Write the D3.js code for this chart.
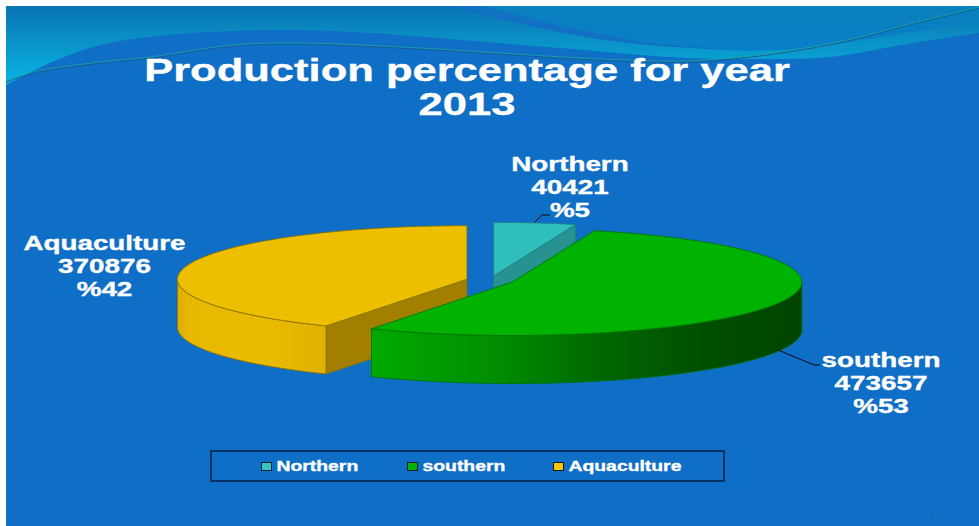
<!DOCTYPE html>
<html>
<head>
<meta charset="utf-8">
<style>
html,body{margin:0;padding:0;background:#fff;overflow:hidden}
svg{display:block}
text{font-family:"Liberation Sans",Arial,sans-serif;font-weight:bold;fill:#fff;stroke:#fff;stroke-width:0.35px}
</style>
<script src="https://cdn.jsdelivr.net/npm/d3@7"></script>
</head>
<body>
<svg id="chart" width="979" height="526"></svg>
<script>
// Production figures for 2013
const categories = ["Northern", "southern", "Aquaculture"];
const production = [40421, 473657, 370876];
const percentLabels = ["%5", "%53", "%42"];
const titleLines = ["Production percentage for year", "2013"];
const pageNumber = "15";

const topColors = ["#30bfbc", "#00b300", "#eebe00"];
const cutColors = ["#279391", "#007a00", "#a37f00"];
const edgeColors = ["#1f7f80", "#007000", "#8a7000"];
const swatchColors = ["#33c4c4", "#00b400", "#ffc400"];

const svg = d3.select("#chart");
const defs = svg.append("defs");

// Slide background
svg.append("rect").attr("x", 6).attr("y", 6).attr("width", 973).attr("height", 520).attr("fill", "#0f6ec6");

// Header swoosh
const curve = d3.line().curve(d3.curveCatmullRom.alpha(0.5));
const verticalGradient = (id, y0, y1, stops) => {
  const g = defs.append("linearGradient").attr("id", id)
    .attr("gradientUnits", "userSpaceOnUse").attr("x1", 0).attr("x2", 0).attr("y1", y0).attr("y2", y1);
  stops.forEach(([o, c]) => g.append("stop").attr("offset", o).attr("stop-color", c));
  return `url(#${id})`;
};

const swooshEdge = [[6,85],[50,63],[100,45],[167,35],[233,31],[300,30],[370,33],[437,38],[560,48],[687,58],[760,59],[830,57],[913,43],[979,33]];
svg.append("path")
  .attr("d", curve(swooshEdge) + "L979,6L6,6Z")
  .attr("fill", verticalGradient("headerGrad", 6, 80, [[0, "#0a74b4"], [0.45, "#0a90c4"], [1, "#08b0e2"]]));
// Upper right fold
svg.append("path")
  .attr("d", curve([[481,6],[560,26],[640,42],[723,50],[780,50],[830,45],[900,34],[979,23]]) + "L979,6Z")
  .attr("fill", verticalGradient("foldGrad", 6, 52, [[0, "#0a80bc"], [1, "#087fcb"]]));
// Dark sliver that tapers into the fold
svg.append("path")
  .attr("d", curve([[450,6],[530,26],[620,42],[723,50]]) + "L640,42L560,26L481,6Z")
  .attr("fill", "#1270c4");
// Thin highlight lines following the curve
const ribbon = [[6,81],[33,72],[100,62],[150,57],[233,45],[300,43],[420,48],[500,53],[600,59],[687,61],[730,58],[780,52],[847,40],[913,23],[979,7]];
svg.append("path")
  .attr("d", curve(ribbon.map(([x, y]) => [x, y + 1.2])))
  .attr("fill", "none").attr("stroke", "#1c5a94").attr("stroke-width", 1);
svg.append("path")
  .attr("d", curve(ribbon))
  .attr("fill", "none").attr("stroke", "#18a8a0").attr("stroke-width", 0.8);

// The slide is shown wider than its natural proportions
const stretched = (sel, factor) => sel.each(function () {
  d3.select(this).attr("textLength", this.getComputedTextLength() * factor)
    .attr("lengthAdjust", "spacingAndGlyphs");
});

svg.append("text").text(titleLines[0]).attr("x", 467).attr("y", 81)
  .attr("text-anchor", "middle").attr("font-size", 32).call(stretched, 1.36);
svg.append("text").text(titleLines[1]).attr("x", 467).attr("y", 115)
  .attr("text-anchor", "middle").attr("font-size", 32).call(stretched, 1.36);

// Exploded 3D pie, projected onto an ellipse
const cx = 490.2, cy = 280.3, rx = 289.5, ry = 53.5, depth = 48, explode = 0.083;
const slices = d3.pie().sort(null).startAngle(0).endAngle(2 * Math.PI)(production);

// Angle 0 is twelve o'clock, increasing clockwise
const centerOf = s => {
  const mid = (s.startAngle + s.endAngle) / 2;
  return [cx + explode * rx * Math.sin(mid), cy - explode * ry * Math.cos(mid)];
};
const rimPoint = (s, a) => {
  const [x, y] = centerOf(s);
  return [x + rx * Math.sin(a), y - ry * Math.cos(a)];
};
const arcPoints = (s, a0, a1) => d3.range(0, 61).map(i => rimPoint(s, a0 + (a1 - a0) * i / 60));
const toPath = pts => "M" + pts.map(p => p[0].toFixed(2) + "," + p[1].toFixed(2)).join("L");

const wallGradient = (id, x0, x1, stops) => {
  const g = defs.append("linearGradient").attr("id", id)
    .attr("gradientUnits", "userSpaceOnUse").attr("x1", x0).attr("x2", x1).attr("y1", 0).attr("y2", 0);
  stops.forEach(([o, c]) => g.append("stop").attr("offset", o).attr("stop-color", c));
  return `url(#${id})`;
};

// Cut face between the slice centre and one rim point, extruded downward
const cutFace = (s, angle, i) => {
  const c = centerOf(s), r = rimPoint(s, angle);
  svg.append("path")
    .attr("d", toPath([c, r, [r[0], r[1] + depth], [c[0], c[1] + depth]]) + "Z")
    .attr("fill", cutColors[i]).attr("stroke", edgeColors[i]).attr("stroke-width", 0.8);
};
const outerWall = (s, a0, a1, fill, i) => {
  const upper = arcPoints(s, a0, a1);
  const lower = upper.map(p => [p[0], p[1] + depth]).reverse();
  svg.append("path").attr("d", toPath(upper.concat(lower)) + "Z")
    .attr("fill", fill).attr("stroke", edgeColors[i]).attr("stroke-width", 0.8);
};
const topFace = (s, i) => {
  const pts = [centerOf(s)].concat(arcPoints(s, s.startAngle, s.endAngle));
  svg.append("path").attr("d", toPath(pts) + "Z")
    .attr("fill", topColors[i]).attr("stroke", edgeColors[i]).attr("stroke-width", 0.8);
};

// Painted back to front
const [north, south, aqua] = slices;
cutFace(north, north.endAngle, 0);
topFace(north, 0);

cutFace(aqua, aqua.startAngle, 2);
outerWall(aqua, aqua.startAngle, 1.5 * Math.PI,
  wallGradient("aquaWall", rimPoint(aqua, 1.5 * Math.PI)[0], rimPoint(aqua, aqua.startAngle)[0],
    [[0, "#dcae00"], [0.08, "#e8b800"], [0.6, "#ebbb00"], [1, "#dfb100"]]), 2);
topFace(aqua, 2);

outerWall(south, Math.PI / 2, south.endAngle,
  wallGradient("southWall", rimPoint(south, south.endAngle)[0], rimPoint(south, Math.PI / 2)[0],
    [[0, "#00aa00"], [0.3, "#008c00"], [0.53, "#006800"], [0.77, "#004f00"], [1, "#004400"]]), 1);
topFace(south, 1);

// Leader lines
const leader = d3.line();
[[[535,222],[542,215],[550,215]], [[778,350],[814,365],[820,365]]].forEach(pts =>
  svg.append("path").attr("d", leader(pts)).attr("fill", "none").attr("stroke", "#0a0a0a").attr("stroke-width", 1));

// Data labels: name, tonnage, share
const labelSpots = [{x: 570, y: 171}, {x: 881, y: 367}, {x: 104.5, y: 250}];
categories.forEach((name, i) => {
  const p = labelSpots[i];
  [name, String(production[i]), percentLabels[i]].forEach((t, r) => {
    svg.append("text").text(t).attr("x", p.x).attr("y", p.y + r * 23)
      .attr("text-anchor", "middle").attr("font-size", 20).call(stretched, 1.39);
  });
});

// Legend
svg.append("rect").attr("x", 211).attr("y", 451).attr("width", 513).attr("height", 30)
  .attr("fill", "none").attr("stroke", "#08203f").attr("stroke-width", 1.5);
const legendX = d3.scaleOrdinal().domain(categories).range([261, 407, 553]);
categories.forEach((name, i) => {
  const x = legendX(name);
  svg.append("rect").attr("x", x + 0.5).attr("y", 462.5).attr("width", 10).attr("height", 8)
    .attr("fill", swatchColors[i]).attr("stroke", "#0a1a30").attr("stroke-width", 1);
  svg.append("text").text(name).attr("x", x + 15.5).attr("y", 471).attr("font-size", 15).call(stretched, 1.29);
});

// Page number
svg.append("text").text(pageNumber).attr("x", 937).attr("y", 519).attr("text-anchor", "middle")
  .attr("font-size", 8).style("fill", "#2a6fa8").style("stroke", "none").style("font-weight", "normal");
</script>
</body>
</html>
